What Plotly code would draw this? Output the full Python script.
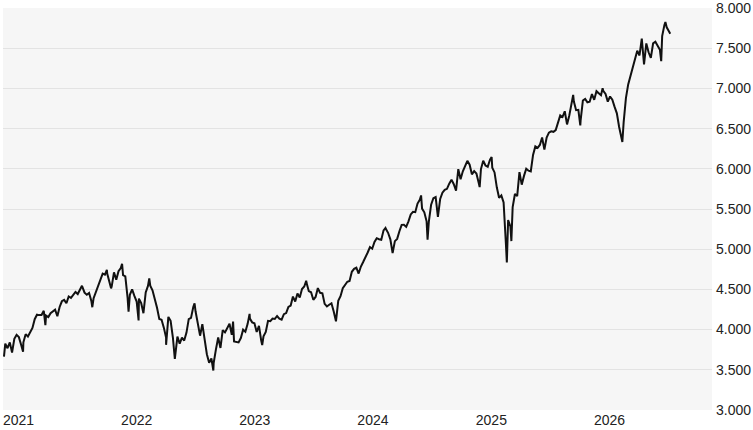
import pandas as pd
import plotly.graph_objects as go

# Weekly closes (Friday)
close_2021 = [3824, 3768, 3841, 3714, 3886, 3934, 3906, 3811, 3842, 3943, 3913, 3974,
              4020, 4129, 4185, 4180, 4181, 4233, 4174, 4156, 4204, 4230, 4247, 4166,
              4281, 4352, 4370, 4327, 4412, 4395, 4437, 4468, 4442, 4509, 4535, 4459,
              4433, 4455, 4357, 4391, 4471, 4545, 4605, 4697, 4683, 4698, 4595, 4538,
              4712, 4621, 4725, 4766]
close_2022 = [4677, 4663, 4398, 4432, 4500, 4419, 4349, 4385, 4329, 4204, 4463, 4543,
              4546, 4488, 4392, 4272, 4132, 4123, 4024, 3901, 4158, 4109, 3901, 3675,
              3912, 3825, 3899, 3863, 3962, 4130, 4145, 4280, 4228, 4058, 3924, 4067,
              3873, 3693, 3586, 3640, 3583, 3753, 3901, 3771, 3993, 3965, 4026, 4072,
              3934, 3852, 3845, 3840]
close_2023 = [3895, 3999, 3973, 4071, 4136, 4090, 4079, 3970, 4046, 3862, 3917, 3971,
              4109, 4105, 4138, 4133, 4169, 4136, 4124, 4192, 4205, 4282, 4299, 4410,
              4348, 4450, 4399, 4505, 4536, 4582, 4478, 4464, 4370, 4406, 4516, 4457,
              4450, 4320, 4288, 4309, 4327, 4224, 4117, 4358, 4415, 4514, 4559, 4595,
              4604, 4719, 4755, 4770]
close_2024 = [4697, 4784, 4840, 4891, 4959, 5027, 5006, 5089, 5137, 5124, 5117, 5234,
              5254, 5204, 5123, 4967, 5100, 5128, 5223, 5303, 5305, 5278, 5347, 5432,
              5465, 5460, 5567, 5615, 5505, 5459, 5347, 5344, 5554, 5634, 5648, 5408,
              5626, 5703, 5738, 5751, 5815, 5865, 5808, 5729, 5996, 5871, 5969, 6032,
              6090, 6051, 5931, 5971]
close_2025 = [5942, 5827, 5997, 6101, 6041, 6026, 6115, 6013, 5955, 5770, 5639, 5668,
              5581, 5074, 5363, 5283, 5525, 5687, 5660, 5958, 5803, 5912, 6000, 5977,
              5967, 6173, 6279, 6260, 6297, 6389, 6238, 6389, 6450, 6467, 6460, 6482,
              6584, 6664, 6644, 6716, 6553, 6664, 6792, 6840, 6729, 6734, 6603, 6849,
              6870, 6827, 6834, 6930]
close_2026 = [6858, 6966, 6940, 6915, 6969, 6932, 6836, 6900, 6860, 6770, 6690, 6520,
              6400, 6580, 6880, 7050, 7160, 7270, 7380, 7470, 7410, 7590, 7300, 7560,
              7450, 7380, 7560, 7580, 7530, 7480, 7650, 7790, 7760, 7710]
first_fridays = ["2021-01-08", "2022-01-07", "2023-01-06", "2024-01-05", "2025-01-03", "2026-01-02"]

# Intraday extremes visible as spikes in the chart
extreme_dates = ["2021-01-04", "2021-03-04", "2021-05-12", "2021-09-02", "2021-10-04",
                 "2021-11-18", "2021-12-01", "2022-01-04", "2022-01-24", "2022-02-24",
                 "2022-03-29", "2022-05-20", "2022-06-16", "2022-08-16", "2022-10-13",
                 "2022-12-13", "2023-02-02", "2023-03-13", "2023-07-27", "2023-10-27",
                 "2024-03-28", "2024-04-19", "2024-07-16", "2024-08-05", "2024-09-06",
                 "2024-12-06", "2025-01-13", "2025-02-19", "2025-04-07", "2025-04-21",
                 "2025-10-10", "2025-10-29", "2025-11-20", "2026-01-28", "2026-03-30",
                 "2026-05-29", "2026-07-28", "2026-08-10", "2026-08-25"]
extreme_values = [3663, 3723, 4056, 4545, 4278, 4743, 4513, 4818, 4222, 4114,
                  4637, 3810, 3636, 4325, 3491, 4100, 4195, 3808, 4607, 4103,
                  5264, 4953, 5669, 5119, 5402, 6099, 5773, 6147, 4835, 5101,
                  6550, 6920, 6540, 7002, 6333, 7620, 7340, 7825, 7680]

y_ticks = [3000, 3500, 4000, 4500, 5000, 5500, 6000, 6500, 7000, 7500, 8000]
x_ticks = ["2021-01-01", "2022-01-01", "2023-01-01", "2024-01-01", "2025-01-01", "2026-01-01"]
x_labels = ["2021", "2022", "2023", "2024", "2025", "2026"]

frames = []
for start, vals in zip(first_fridays, [close_2021, close_2022, close_2023,
                                        close_2024, close_2025, close_2026]):
    frames.append(pd.DataFrame({"date": pd.date_range(start, periods=len(vals), freq="7D"),
                                "value": vals}))
frames.append(pd.DataFrame({"date": pd.to_datetime(extreme_dates), "value": extreme_values}))
df = pd.concat(frames).sort_values("date", kind="stable")

fig = go.Figure(go.Scatter(x=df["date"], y=df["value"], mode="lines",
                           line=dict(color="#111111", width=2), hoverinfo="skip"))

font = dict(family="Liberation Sans, Arial, sans-serif", size=14, color="#222222")
fig.update_layout(
    width=753, height=430,
    margin=dict(l=3, r=41, t=8, b=20, autoexpand=False),
    paper_bgcolor="white", plot_bgcolor="#f6f6f6",
    separators=",.", showlegend=False, font=font,
    xaxis=dict(type="date", range=["2021-01-01", "2027-01-01"], tickvals=x_ticks,
               ticktext=x_labels, showgrid=False, zeroline=False,
               showline=False, ticks="", ticklabelposition="outside right",
               tickfont=font, fixedrange=True),
    yaxis=dict(side="right", range=[2999.5, 8000.5], tickvals=y_ticks,
               tickformat=",.0f", showgrid=True, gridcolor="#e3e3e3", gridwidth=1,
               zeroline=False, showline=False, ticks="", tickfont=font,
               ticklabelstandoff=3, ticklabeloverflow="allow", fixedrange=True),
)

fig.write_html("out.html", config={"displayModeBar": False},
               post_script="document.body.style.margin='0';document.body.style.overflow='hidden';")
